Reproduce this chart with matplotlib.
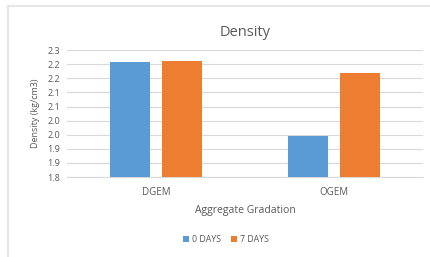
import numpy as np
import matplotlib
matplotlib.use('Agg')
import matplotlib.pyplot as plt
from matplotlib.lines import Line2D
from decimal import Decimal, ROUND_HALF_UP

categories = ['DGEM', 'OGEM']
days_0 = [2.209, 1.946]
days_7 = [2.211, 2.169]
series_names = ['0 DAYS', '7 DAYS']
yticks = [1.80, 1.85, 1.90, 1.95, 2.00, 2.05, 2.10, 2.15, 2.20, 2.25]

plt.rcParams['font.family'] = ['Open Sans', 'DejaVu Sans']
grey = '#595959'

fig = plt.figure(figsize=(4.3, 2.57), dpi=100)
ax = fig.add_axes([0.156, 0.311, 0.828, 0.494])

x = np.arange(len(categories))
w = 0.225
off = 0.146
ax.bar(x - off, days_0, w, color='#5B9BD5', label=series_names[0], zorder=3)
ax.bar(x + off, days_7, w, color='#ED7D31', label=series_names[1], zorder=3)

ax.set_xlim(-0.5, 1.5)
ax.set_ylim(1.8, 2.25)
ax.set_yticks(yticks)
# Excel style one-decimal labels (round half up)
ax.set_yticklabels([str(Decimal(str(v)).quantize(Decimal('0.1'), ROUND_HALF_UP)) for v in yticks])
ax.set_xticks(x)
ax.set_xticklabels(categories)
ax.tick_params(axis='both', length=0, labelsize=6.5, colors=grey)
ax.tick_params(axis='y', pad=5)
ax.tick_params(axis='x', pad=7, labelsize=7)
ax.grid(axis='y', color='#D9D9D9', linewidth=0.8, zorder=0)
for s in ['top', 'right', 'left']:
    ax.spines[s].set_visible(False)
ax.spines['bottom'].set_color('#D9D9D9')

ax.set_title('Density', fontsize=10.5, color=grey, pad=10)
ax.set_ylabel('Density (kg/cm3)', fontsize=6.5, color=grey, labelpad=5)
ax.set_xlabel('Aggregate Gradation', fontsize=7.5, color=grey, labelpad=5)

fig.legend(loc='lower center', bbox_to_anchor=(0.525, 0.02), ncol=2, frameon=False,
           fontsize=6.3, labelcolor=grey, handlelength=0.7, handleheight=0.7,
           handletextpad=0.3, columnspacing=1.2)

# light frame of the chart area
fig.add_artist(Line2D([8/430, 1], [1 - 6/257] * 2, color='#E6E6E6', lw=1.5, transform=fig.transFigure))
fig.add_artist(Line2D([8/430] * 2, [0, 1 - 6/257], color='#E6E6E6', lw=1.5, transform=fig.transFigure))

fig.savefig('out.png', dpi=100)
